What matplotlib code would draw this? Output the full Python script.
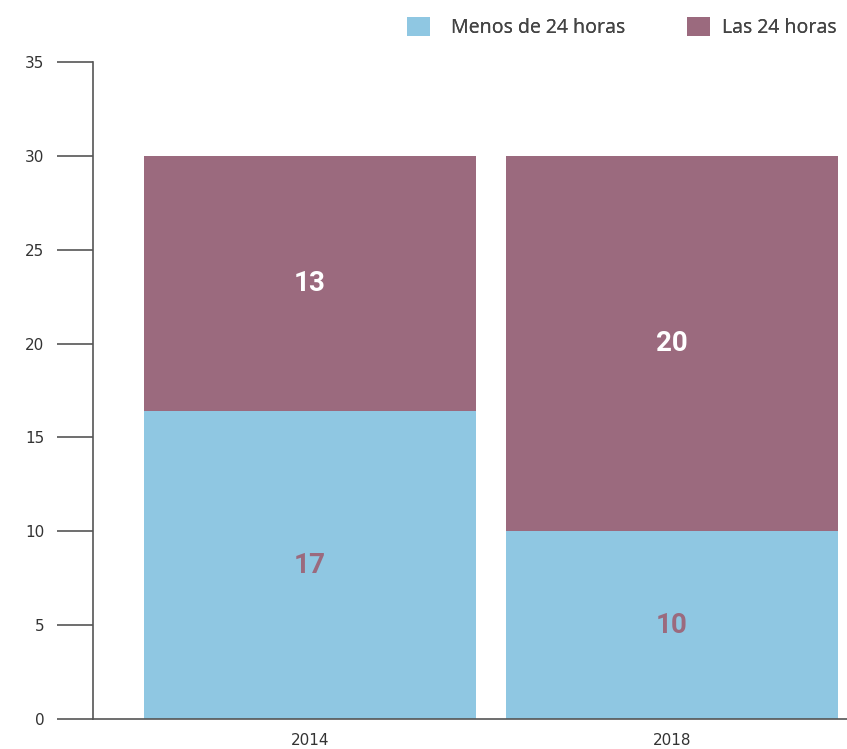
import matplotlib
matplotlib.use("Agg")
import matplotlib.pyplot as plt
from matplotlib.patches import Patch

years = ["2014", "2018"]
menos_24 = [16.4, 10.0]
las_24 = [13.6, 20.0]
menos_labels = ["17", "10"]
las_labels = ["13", "20"]
series_names = ["Menos de 24 horas", "Las 24 horas"]
yticks = [0, 5, 10, 15, 20, 25, 30, 35]

BLUE = "#8FC7E2"
MAUVE = "#9B6A7E"
AXC = "#555555"
TXT = "#333333"

W, H = 847, 749
fig = plt.figure(figsize=(W / 100, H / 100), dpi=100)
ax = fig.add_axes([93 / W, 30 / H, (847 - 93) / W, (719 - 62) / H])

x = [0, 1]
bw = 332 / 362
ax.bar(x, menos_24, width=bw, color=BLUE, zorder=2)
ax.bar(x, las_24, width=bw, bottom=menos_24, color=MAUVE, zorder=2)

for i in range(len(x)):
    ax.text(x[i], menos_24[i] / 2, menos_labels[i], ha="center", va="center",
            color=MAUVE, fontsize=20, fontweight="bold", family="Roboto")
    ax.text(x[i], menos_24[i] + las_24[i] / 2, las_labels[i], ha="center", va="center",
            color="white", fontsize=20, fontweight="bold", family="Roboto")

ax.set_xlim(-217 / 362, 537 / 362)
ax.set_ylim(0, 35)
ax.set_yticks(yticks)
ax.set_yticklabels([str(t) for t in yticks], fontsize=11, color=TXT)
ax.set_xticks(x)
ax.set_xticklabels(years, fontsize=11, color=TXT)
ax.tick_params(axis="y", length=26, width=1.2, color=AXC, pad=9)
ax.tick_params(axis="x", length=0, pad=10)
for s in ["top", "right"]:
    ax.spines[s].set_visible(False)
for s in ["left", "bottom"]:
    ax.spines[s].set_color(AXC)
    ax.spines[s].set_linewidth(1.2)

colors = [BLUE, MAUVE]
anchors_px = [407, 687]
pads = [1.1, 0.62]
for name, c, xp, pad in zip(series_names, colors, anchors_px, pads):
    leg = fig.legend([Patch(facecolor=c, edgecolor="none")], [name], loc="center left",
                     bbox_to_anchor=(xp / W, 1 - 27.5 / H), frameon=False,
                     handlelength=1.18, handleheight=1.18, handletextpad=pad,
                     borderpad=0, borderaxespad=0,
                     prop={"family": "Noto Sans", "size": 14}, labelcolor="#444444")
    fig.add_artist(leg)

fig.savefig("out.png", dpi=100)
